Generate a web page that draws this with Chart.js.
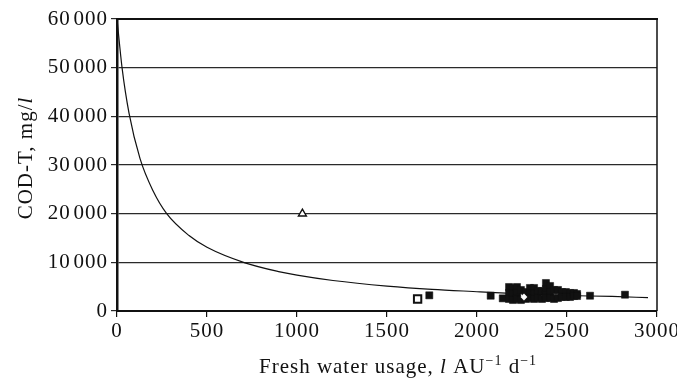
<!DOCTYPE html>
<html>
<head>
<meta charset="utf-8">
<script src="https://cdn.jsdelivr.net/npm/chart.js@4/dist/chart.umd.min.js"></script>
<style>
html,body{margin:0;padding:0;background:#fff;}
#wrap{width:677px;height:384px;}
</style>
</head>
<body>
<div id="wrap"><canvas id="c" width="677" height="384"></canvas></div>
<script>
// Fitted curve (x: fresh water usage, y: COD-T)
const curveX = [0, 28, 67, 128, 200, 276, 400, 500, 711, 905, 1000, 1200, 1500, 1750, 2017, 2250, 2500, 2750, 2950];
const curveY = [60000, 50000, 40600, 31300, 24700, 20000, 15500, 13100, 9900, 8050, 7370, 6270, 5120, 4440, 3950, 3510, 3180, 2990, 2730];

// Filled squares (single points and the dense cluster)
const filledX = [1735, 2076, 2143,
  2178, 2178, 2178, 2200, 2200, 2200, 2222, 2222, 2222, 2244, 2244, 2272, 2272,
  2294, 2294, 2294, 2317, 2317, 2317, 2339, 2339, 2361, 2361,
  2383, 2383, 2383, 2383, 2406, 2406, 2406, 2428, 2428, 2450, 2450,
  2472, 2472, 2494, 2494, 2517, 2517, 2539, 2539, 2556, 2556,
  2628, 2822];
const filledY = [3220, 3140, 2600,
  4930, 3700, 2470, 4730, 3600, 2260, 4930, 3700, 2470, 4320, 2260, 3900, 2470,
  4730, 3600, 2670, 4730, 3600, 2470, 4110, 2670, 4110, 2470,
  5750, 4500, 3300, 2670, 5140, 3900, 2670, 4320, 2470, 4320, 2670,
  3900, 2880, 3900, 2880, 3700, 2880, 3700, 3080, 3490, 3080,
  3140, 3350];

// Open square
const openSqX = [1670];
const openSqY = [2460];
// Open triangle
const triX = [1030];
const triY = [20000];
// White diamond
const diaX = [2261];
const diaY = [2880];

const xTicks = [0, 500, 1000, 1500, 2000, 2500, 3000];
const yTicks = [0, 10000, 20000, 30000, 40000, 50000, 60000];

function pts(xs, ys){ return xs.map((x,i)=>({x:x,y:ys[i]})); }

const FONT = "'Liberation Serif', 'Times New Roman', serif";
const SPACING = '1px';
const FS = 21;

const spacingPlugin = {
  id: 'spacing',
  beforeDraw(chart){ chart.ctx.letterSpacing = SPACING; }
};

function drawSegs(ctx, segs, cx, base){
  let w = 0;
  segs.forEach(s=>{ctx.font=s.f; w+=ctx.measureText(s.t).width;});
  let x = cx - w/2;
  segs.forEach(s=>{ctx.font=s.f; ctx.fillText(s.t, x, base - (s.up||0)); x+=ctx.measureText(s.t).width;});
}

const titles = {
  id: 'titles',
  afterDraw(chart){
    const ctx = chart.ctx;
    const a = chart.chartArea;
    ctx.save();
    ctx.letterSpacing = SPACING;
    // box top and right
    ctx.strokeStyle = '#111';
    ctx.lineWidth = 2;
    ctx.beginPath();
    ctx.moveTo(a.left, a.top); ctx.lineTo(a.right + 1, a.top);
    ctx.stroke();
    ctx.lineWidth = 1.5;
    ctx.beginPath();
    ctx.moveTo(a.right, a.top); ctx.lineTo(a.right, a.bottom);
    ctx.stroke();
    ctx.fillStyle = '#111';
    ctx.textBaseline = 'alphabetic';
    ctx.textAlign = 'left';
    const N = FS+'px '+FONT, I = 'italic '+FS+'px '+FONT, S = '14px '+FONT;
    // x title with mixed fonts and superscripts
    drawSegs(ctx, [
      {t:'Fresh water usage, ', f:N},
      {t:'l', f:I},
      {t:' AU', f:N},
      {t:'\u22121', f:S, up:8},
      {t:' d', f:N},
      {t:'\u22121', f:S, up:8}
    ], 398, 373);
    // y title rotated
    ctx.translate(32, 158);
    ctx.rotate(-Math.PI/2);
    drawSegs(ctx, [
      {t:'COD-T, mg/', f:N},
      {t:'l', f:I}
    ], 0, 0);
    ctx.restore();
  }
};

new Chart(document.getElementById('c'), {
  type: 'scatter',
  data: {
    datasets: [
      {
        data: pts(curveX, curveY),
        showLine: true,
        borderColor: '#111',
        borderWidth: 1.2,
        pointRadius: 0,
        tension: 0.4,
        cubicInterpolationMode: 'monotone',
        order: 5
      },
      {
        data: pts(filledX, filledY),
        pointStyle: 'rect',
        pointRadius: 5,
        backgroundColor: '#111',
        borderColor: '#111',
        borderWidth: 0.5,
        order: 2
      },
      {
        data: pts(openSqX, openSqY),
        pointStyle: 'rect',
        pointRadius: 5.2,
        backgroundColor: '#fff',
        borderColor: '#111',
        borderWidth: 2,
        order: 1
      },
      {
        data: pts(triX, triY),
        pointStyle: 'triangle',
        pointRadius: 4.6,
        backgroundColor: '#fff',
        borderColor: '#111',
        borderWidth: 1.4,
        order: 1
      },
      {
        data: pts(diaX, diaY),
        pointStyle: 'rectRot',
        pointRadius: 3.4,
        backgroundColor: '#fff',
        borderColor: '#fff',
        borderWidth: 0,
        order: 0
      }
    ]
  },
  options: {
    responsive: false,
    animation: false,
    events: [],
    layout: { padding: { left: 0, right: 20, top: 19, bottom: 0 } },
    plugins: { legend: { display: false }, tooltip: { enabled: false } },
    scales: {
      x: {
        type: 'linear',
        min: 0, max: 3000,
        afterBuildTicks(scale){ scale.ticks = xTicks.map(v=>({value:v})); },
        afterFit(scale){ scale.height = 73; scale.paddingRight = 0; scale.paddingLeft = 0; },
        grid: { display: true, drawOnChartArea: false, drawTicks: true, tickLength: 6, color: '#111', lineWidth: 1.2 },
        border: { display: true, color: '#111', width: 2 },
        ticks: { color: '#111', font: { family: FONT, size: FS }, padding: 2, maxRotation: 0, callback: v => String(v) }
      },
      y: {
        type: 'linear',
        min: 0, max: 60000,
        afterBuildTicks(scale){ scale.ticks = yTicks.map(v=>({value:v})); },
        afterFit(scale){ scale.width = 117; scale.paddingTop = 0; scale.paddingBottom = 0; },
        grid: { display: true, drawTicks: true, tickLength: 6, color: '#2a2a2a', lineWidth: 1.2 },
        border: { display: true, color: '#111', width: 2.5 },
        ticks: { color: '#111', font: { family: FONT, size: FS }, padding: 3,
          callback: v => v === 0 ? '0' : String(v).replace(/(\d+)(\d{3})$/, '$1\u200A$2') }
      }
    }
  },
  plugins: [spacingPlugin, titles]
});
</script>
</body>
</html>
